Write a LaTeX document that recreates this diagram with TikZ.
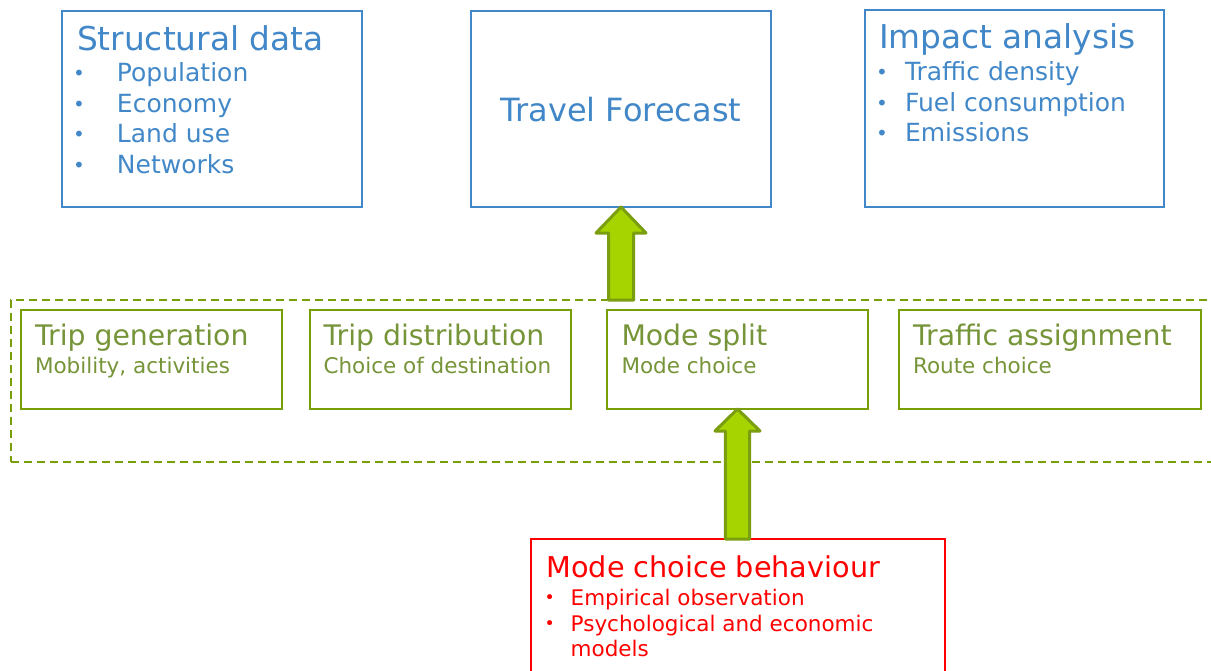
\documentclass[tikz,border=0pt]{standalone}
\usepackage{fontspec}
\setmainfont{DejaVu Sans}
\usetikzlibrary{calc}
\definecolor{blu}{RGB}{66,136,200}
\definecolor{grntxt}{RGB}{118,148,56}
\definecolor{grnline}{RGB}{120,158,8}
\definecolor{afill}{RGB}{166,212,0}
\definecolor{aline}{RGB}{122,158,16}
\definecolor{rd}{RGB}{255,0,0}
\newcommand\fs[1]{\fontsize{#1}{#1}\selectfont}
\newcommand\blt[1]{\makebox[#1pt][l]{\hspace{1.5pt}\raisebox{1.2pt}{\scalebox{0.8}{•}}}}
\newcommand\blkarrow[5]{% tip, tail, head half width, head length, shaft half width
  \draw[blockarrow] ($(#2)+(-#5,0)$) -- ($(#1)+(-#5,#4)$) -- ($(#1)+(-#3,#4)$) -- (#1)
    -- ($(#1)+(#3,#4)$) -- ($(#1)+(#5,#4)$) -- ($(#2)+(#5,0)$) -- cycle;}
\begin{document}
\begin{tikzpicture}[x=1pt,y=-1pt,
  box/.style={draw, line width=2.4pt, inner sep=0pt, outer sep=0pt, fill=white},
  bluebox/.style={box, draw=blu},
  greenbox/.style={box, draw=grnline},
  redbox/.style={box, draw=rd},
  txt/.style={anchor=base west, inner sep=0pt, outer sep=0pt},
  bluetxt/.style={txt, text=blu},
  greentxt/.style={txt, text=grntxt},
  redtxt/.style={txt, text=rd},
  blockarrow/.style={draw=aline, fill=afill, line width=3pt, line join=round}]
\useasboundingbox (0,0) rectangle (1211,670);

% top row
\node[bluebox, minimum width=300pt, minimum height=196pt] (sd) at (212,109) {};
\node[bluebox, minimum width=300pt, minimum height=196pt] (tf) at (621,109) {};
\node[bluebox, minimum width=299pt, minimum height=197pt] (ia) at (1014.5,108.5) {};

\node[bluetxt] (sdT) at (77,50) {\fs{32.8}Structural data};
\node[bluetxt] (sd1) at (71.6,81.7) {\fs{25}\blt{45.4}Population};
\node[bluetxt] (sd2) at (71.6,112.2) {\fs{25}\blt{45.4}Economy};
\node[bluetxt] (sd3) at (71.6,142.7) {\fs{25}\blt{45.4}Land use};
\node[bluetxt] (sd4) at (71.6,173.2) {\fs{25}\blt{45.4}Networks};

\node[anchor=base, inner sep=0pt, text=blu] (tfT) at (621,121) {\fs{32}Travel Forecast};

\node[bluetxt] (iaT) at (879,48.3) {\fs{32.8}Impact analysis};
\node[bluetxt] (ia1) at (874.6,80.5) {\fs{25}\blt{30.4}Traffic density};
\node[bluetxt] (ia2) at (874.6,111.2) {\fs{25}\blt{30.4}Fuel consumption};
\node[bluetxt] (ia3) at (874.6,141.7) {\fs{25}\blt{30.4}Emissions};

% model stages
\node[draw=grnline, line width=2.2pt, dash pattern=on 8pt off 5pt, inner sep=0pt, outer sep=0pt,
      minimum width=1219pt, minimum height=162pt] (stage) at (620.5,381) {};

\node[greenbox, minimum width=261pt, minimum height=99pt] (tg) at (151.5,359.5) {};
\node[greenbox, minimum width=261pt, minimum height=99pt] (td) at (440.5,359.5) {};
\node[greenbox, minimum width=261pt, minimum height=99pt] (ms) at (737.5,359.5) {};
\node[greenbox, minimum width=302pt, minimum height=99pt] (ta) at (1050,359.5) {};

\node[greentxt] (tgT) at (35,345.5) {\fs{28.3}Trip generation};
\node[greentxt] (tgS) at (35,373.5) {\fs{21.5}Mobility, activities};
\node[greentxt] (tdT) at (323.5,345.5) {\fs{28.3}Trip distribution};
\node[greentxt] (tdS) at (323.5,373.5) {\fs{21.5}Choice of destination};
\node[greentxt] (msT) at (621.5,345.5) {\fs{28.3}Mode split};
\node[greentxt] (msS) at (621.5,373.5) {\fs{21.5}Mode choice};
\node[greentxt] (taT) at (913,345.5) {\fs{28.3}Traffic assignment};
\node[greentxt] (taS) at (913,373.5) {\fs{21.5}Route choice};

% mode choice behaviour
\node[redbox, minimum width=414pt, minimum height=161pt] (mcb) at (738,619.5) {};
\node[redtxt] (mcbT) at (546.5,577) {\fs{28.7}Mode choice behaviour};
\node[redtxt] (mcb1) at (543.2,605) {\fs{21.5}\blt{27.5}Empirical observation};
\node[redtxt] (mcb2) at (543.2,631) {\fs{21.5}\blt{27.5}Psychological and economic};
\node[redtxt] (mcb3) at (570.7,656.5) {\fs{21.5}models};

% arrows
\coordinate (a1tip) at (tf.south);
\coordinate (a1tail) at (stage.north -| tf.south);
\blkarrow{a1tip}{a1tail}{25}{26}{12.5}
\coordinate (a2tip) at (ms.south);
\coordinate (a2tail) at (mcb.north -| ms.south);
\blkarrow{a2tip}{a2tail}{22.5}{22}{12.2}
\end{tikzpicture}
\end{document}
